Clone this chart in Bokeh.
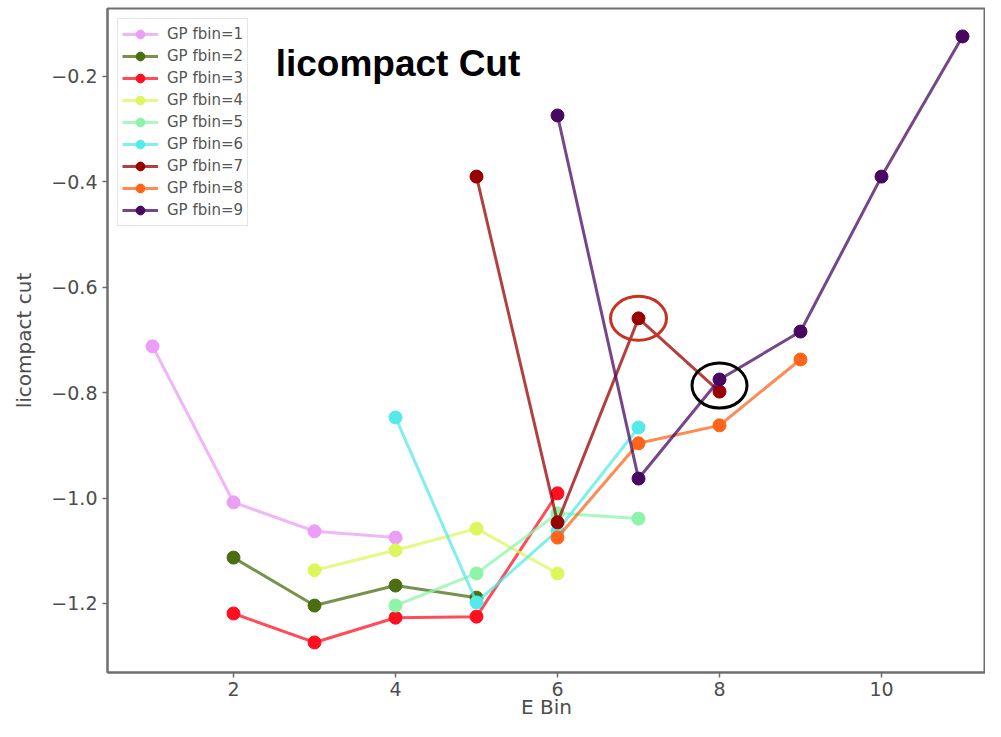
from bokeh.plotting import figure
from bokeh.models import Range1d, Label, FixedTicker
from bokeh.embed import file_html
from bokeh.resources import INLINE

# ---- data ----
series_labels = ["GP fbin=1", "GP fbin=2", "GP fbin=3", "GP fbin=4", "GP fbin=5",
                 "GP fbin=6", "GP fbin=7", "GP fbin=8", "GP fbin=9"]
series_colors = ["#eb9ef5", "#4b6e12", "#ff1020", "#dcf75c", "#8cf5a8",
                 "#55eaea", "#990000", "#ff6418", "#480862"]

ebin_1 = [1, 2, 3, 4]
cut_1 = [-0.712, -1.008, -1.063, -1.075]
ebin_2 = [2, 3, 4, 5]
cut_2 = [-1.113, -1.204, -1.166, -1.189]
ebin_3 = [2, 3, 4, 5, 6]
cut_3 = [-1.219, -1.274, -1.227, -1.225, -0.991]
ebin_4 = [3, 4, 5, 6]
cut_4 = [-1.137, -1.099, -1.058, -1.143]
ebin_5 = [4, 5, 6, 7]
cut_5 = [-1.204, -1.143, -1.029, -1.039]
ebin_6 = [4, 5, 6, 7]
cut_6 = [-0.847, -1.198, -1.062, -0.866]
ebin_7 = [5, 6, 7, 8]
cut_7 = [-0.390, -1.046, -0.659, -0.798]
ebin_8 = [6, 7, 8, 9]
cut_8 = [-1.075, -0.896, -0.862, -0.737]
ebin_9 = [6, 7, 8, 9, 10, 11]
cut_9 = [-0.274, -0.963, -0.775, -0.684, -0.390, -0.124]

x_ticks = [2, 4, 6, 8, 10]
y_ticks = [-1.2, -1.0, -0.8, -0.6, -0.4, -0.2]
y_tick_labels = ["\u22121.2", "\u22121.0", "\u22120.8", "\u22120.6", "\u22120.4", "\u22120.2"]

title_text = "licompact Cut"
x_label = "E Bin"
y_label = "licompact cut"

all_ebins = [ebin_1, ebin_2, ebin_3, ebin_4, ebin_5, ebin_6, ebin_7, ebin_8, ebin_9]
all_cuts = [cut_1, cut_2, cut_3, cut_4, cut_5, cut_6, cut_7, cut_8, cut_9]

# ---- figure ----
p = figure(width=985, height=721, output_backend="svg", toolbar_location=None,
           x_range=Range1d(0.444, 11.284), y_range=Range1d(-1.331, -0.071),
           min_border_left=107, min_border_right=0, min_border_top=8, min_border_bottom=49)
p.background_fill_color = "white"
p.border_fill_color = "white"
p.outline_line_color = "#6e6e6e"
p.outline_line_width = 2
p.xgrid.visible = False
p.ygrid.visible = False

TICK_FONT = "DejaVu Sans"
for ax in (p.xaxis[0], p.yaxis[0]):
    ax.axis_line_color = "#6e6e6e"
    ax.axis_line_width = 2
    ax.major_tick_line_color = "#6e6e6e"
    ax.major_tick_line_width = 1.5
    ax.major_tick_in = 0
    ax.major_tick_out = 5
    ax.minor_tick_line_color = None
    ax.major_label_text_font = TICK_FONT
    ax.major_label_text_font_size = "19px"
    ax.major_label_text_color = "#4d4d4d"
    ax.axis_label_text_font = TICK_FONT
    ax.axis_label_text_font_size = "20px"
    ax.axis_label_text_font_style = "normal"
    ax.axis_label_text_color = "#4d4d4d"

p.xaxis.ticker = FixedTicker(ticks=x_ticks)
p.yaxis.ticker = FixedTicker(ticks=y_ticks)
p.yaxis.major_label_overrides = {t: lab for t, lab in zip(y_ticks, y_tick_labels)}
p.xaxis.axis_label = x_label
p.yaxis.axis_label = y_label
p.xaxis.major_label_standoff = 4
p.xaxis.axis_label_standoff = -4
p.yaxis.major_label_standoff = 5
p.yaxis.axis_label_standoff = 12

for xs, ys, lab, col in zip(all_ebins, all_cuts, series_labels, series_colors):
    p.line(xs, ys, line_color=col, line_width=3, line_alpha=0.75, legend_label=lab)
    p.scatter(xs, ys, size=13, fill_color=col, line_color=col, legend_label=lab)

# highlight ellipses around points of interest
p.ellipse(x=[ebin_7[2]], y=[cut_7[2]], width=56, height=44,
          width_units="screen", height_units="screen",
          fill_alpha=0, line_color="#c8321e", line_width=3)
p.ellipse(x=[ebin_9[2]], y=[(cut_9[2] + cut_7[3]) / 2], width=55, height=45,
          width_units="screen", height_units="screen",
          fill_alpha=0, line_color="black", line_width=3)

p.add_layout(Label(x=2.52, y=-0.1753, text=title_text, text_font="Liberation Sans",
                   text_font_style="bold", text_font_size="37px", text_color="black",
                   text_baseline="alphabetic"))

lg = p.legend[0]
lg.location = "top_left"
lg.margin = 10
lg.padding = 4
lg.spacing = 0
lg.label_height = 22
lg.glyph_height = 22
lg.glyph_width = 36
lg.label_standoff = 9
lg.label_text_font = TICK_FONT
lg.label_text_font_size = "15px"
lg.label_text_color = "#555555"
lg.border_line_color = "#cccccc"
lg.border_line_width = 1.5
lg.background_fill_color = "white"
lg.background_fill_alpha = 1.0

open("out.html", "w").write(file_html(p, INLINE))
